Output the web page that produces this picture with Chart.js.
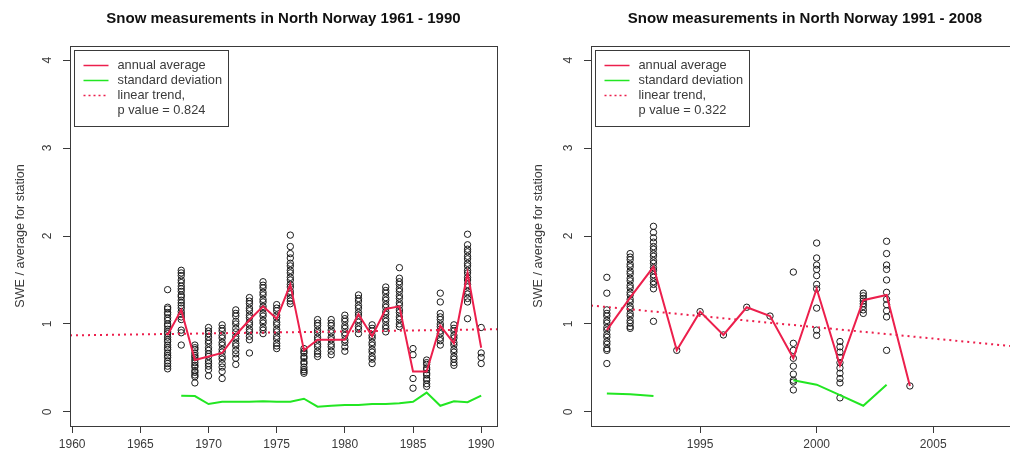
<!DOCTYPE html>
<html>
<head>
<meta charset="utf-8">
<script src="https://cdn.jsdelivr.net/npm/chart.js@4.4.1/dist/chart.umd.min.js"></script>
<style>
  html, body { margin: 0; padding: 0; background: #fff; overflow: hidden; width: 1010px; height: 461px; }
  #left { position: absolute; left: 0; top: 0; }
  #right { position: absolute; left: 505px; top: 0; }
</style>
</head>
<body>
<canvas id="left" width="505" height="461"></canvas>
<canvas id="right" width="525" height="461"></canvas>
<script>
// ---- data ----
const leftYears = [1967, 1968, 1969, 1970, 1971, 1972, 1973, 1974, 1975, 1976, 1977, 1978,
  1979, 1980, 1981, 1982, 1983, 1984, 1985, 1986, 1987, 1988, 1989, 1990];
const leftAvg = [0.875, 1.16, 0.59, 0.63, 0.67, 0.875, 1.045, 1.2, 1.06, 1.45, 0.70, 0.82,
  0.82, 0.82, 1.11, 0.86, 1.17, 1.2, 0.46, 0.46, 0.98, 0.78, 1.58, 0.73];
const leftSd = [null, 0.185, 0.18, 0.09, 0.115, 0.115, 0.115, 0.12, 0.115, 0.115, 0.15, 0.06,
  0.07, 0.08, 0.08, 0.09, 0.09, 0.10, 0.115, 0.22, 0.07, 0.12, 0.11, 0.185];
const leftStations = [
  [1.39, 1.19, 1.17, 1.13, 1.11, 1.07, 1.04, 1.00, 0.98, 0.94, 0.91, 0.89, 0.85, 0.82, 0.80, 0.76, 0.73, 0.71, 0.67, 0.64, 0.62, 0.58, 0.55, 0.52, 0.49],
  [1.61, 1.58, 1.55, 1.50, 1.47, 1.43, 1.40, 1.37, 1.33, 1.31, 1.27, 1.24, 1.21, 1.18, 1.14, 1.11, 1.08, 1.05, 0.93, 0.90, 0.76],
  [0.76, 0.73, 0.71, 0.67, 0.64, 0.62, 0.59, 0.56, 0.53, 0.51, 0.47, 0.45, 0.42, 0.40, 0.33],
  [0.96, 0.92, 0.89, 0.85, 0.81, 0.78, 0.73, 0.70, 0.66, 0.63, 0.58, 0.55, 0.52, 0.48, 0.41],
  [0.99, 0.95, 0.92, 0.87, 0.84, 0.79, 0.76, 0.71, 0.68, 0.63, 0.60, 0.55, 0.51, 0.46, 0.38],
  [1.16, 1.12, 1.09, 1.03, 1.00, 0.95, 0.91, 0.86, 0.83, 0.78, 0.75, 0.70, 0.66, 0.61, 0.54],
  [1.30, 1.26, 1.23, 1.18, 1.15, 1.10, 1.07, 1.02, 0.99, 0.94, 0.91, 0.86, 0.82, 0.67],
  [1.48, 1.44, 1.41, 1.36, 1.33, 1.28, 1.25, 1.20, 1.17, 1.12, 1.09, 1.04, 1.01, 0.96, 0.93, 0.89],
  [1.22, 1.18, 1.15, 1.10, 1.07, 1.02, 0.99, 0.94, 0.91, 0.86, 0.83, 0.78, 0.75, 0.72],
  [2.01, 1.88, 1.80, 1.75, 1.69, 1.66, 1.61, 1.58, 1.53, 1.50, 1.45, 1.42, 1.37, 1.34, 1.29, 1.26, 1.23],
  [0.72, 0.69, 0.67, 0.63, 0.61, 0.57, 0.55, 0.51, 0.48, 0.46, 0.44],
  [1.05, 1.01, 0.98, 0.93, 0.90, 0.85, 0.82, 0.77, 0.74, 0.69, 0.66, 0.63],
  [1.05, 1.01, 0.98, 0.93, 0.90, 0.85, 0.82, 0.77, 0.74, 0.69, 0.65],
  [1.10, 1.06, 1.03, 0.98, 0.95, 0.90, 0.87, 0.82, 0.79, 0.74, 0.69],
  [1.33, 1.29, 1.26, 1.21, 1.18, 1.13, 1.10, 1.05, 1.02, 0.97, 0.94, 0.89],
  [0.99, 0.95, 0.92, 0.87, 0.84, 0.79, 0.76, 0.71, 0.68, 0.63, 0.60, 0.55],
  [1.42, 1.38, 1.35, 1.30, 1.27, 1.22, 1.19, 1.14, 1.11, 1.06, 1.03, 0.98, 0.95, 0.91],
  [1.64, 1.52, 1.48, 1.45, 1.40, 1.37, 1.32, 1.29, 1.24, 1.21, 1.16, 1.13, 1.08, 1.05, 1.00, 0.97],
  [0.72, 0.65, 0.38, 0.27],
  [0.59, 0.56, 0.54, 0.50, 0.48, 0.44, 0.42, 0.38, 0.36, 0.32, 0.29],
  [1.35, 1.25, 1.12, 1.08, 1.05, 1.00, 0.97, 0.92, 0.89, 0.84, 0.81, 0.76],
  [0.99, 0.95, 0.92, 0.87, 0.84, 0.79, 0.76, 0.71, 0.68, 0.63, 0.60, 0.56, 0.53],
  [2.02, 1.90, 1.85, 1.82, 1.77, 1.74, 1.69, 1.66, 1.61, 1.58, 1.53, 1.50, 1.45, 1.42, 1.37, 1.34, 1.29, 1.25, 1.06],
  [0.96, 0.67, 0.62, 0.55]
];
const leftTrendYears = [1959.84, 1991.16];
const leftTrendValues = [0.87, 0.94];

const rightYears = [1991, 1992, 1993, 1994, 1995, 1996, 1997, 1998, 1999, 2000, 2001, 2002, 2003, 2004];
const rightAvg = [0.93, 1.3, 1.65, 0.70, 1.14, 0.875, 1.19, 1.09, 0.61, 1.40, 0.53, 1.27, 1.33, 0.295];
const rightSd = [0.21, 0.20, 0.18, null, null, null, null, null, 0.36, 0.31, 0.19, 0.07, 0.31, null];
const rightStations = [
  [1.53, 1.35, 1.16, 1.12, 1.09, 1.04, 1.01, 0.96, 0.93, 0.88, 0.85, 0.80, 0.77, 0.72, 0.70, 0.55],
  [1.80, 1.76, 1.73, 1.68, 1.65, 1.60, 1.57, 1.52, 1.49, 1.44, 1.41, 1.36, 1.33, 1.28, 1.25, 1.20, 1.17, 1.12, 1.09, 1.04, 1.01, 0.97, 0.95],
  [2.11, 2.04, 1.98, 1.93, 1.88, 1.85, 1.80, 1.77, 1.72, 1.69, 1.64, 1.61, 1.56, 1.53, 1.48, 1.45, 1.40, 1.03],
  [0.70],
  [1.14],
  [0.875],
  [1.19],
  [1.09],
  [1.59, 0.78, 0.70, 0.61, 0.52, 0.43, 0.36, 0.34, 0.25],
  [1.92, 1.75, 1.67, 1.62, 1.55, 1.45, 1.40, 1.18, 0.93, 0.87],
  [0.80, 0.74, 0.68, 0.62, 0.56, 0.50, 0.44, 0.38, 0.33, 0.16],
  [1.35, 1.32, 1.29, 1.26, 1.23, 1.20, 1.16, 1.12],
  [1.94, 1.80, 1.67, 1.62, 1.50, 1.36, 1.28, 1.22, 1.15, 1.08, 0.70],
  [0.295]
];
const rightTrendYears = [1990.32, 2008.68];
const rightTrendValues = [1.21, 0.74];

const yTicks = [0, 1, 2, 3, 4];

// ---- styling ----
const FONT = "'Liberation Sans', Arial, Helvetica, sans-serif";
const INK = "#3a3a3a";
const RED = "#ec1f4c";
const GREEN = "#22e622";

Chart.defaults.font.family = FONT;
Chart.defaults.color = INK;

// titles, frame and the in-plot legend
const framePlugin = {
  id: "frame",
  afterDraw(chart, args, opts) {
    const ctx = chart.ctx;
    const a = chart.chartArea;
    ctx.save();
    ctx.strokeStyle = INK;
    ctx.lineWidth = 1;
    ctx.strokeRect(Math.round(a.left) + 0.5, Math.round(a.top) + 0.5,
      Math.round(a.right - a.left), Math.round(a.bottom - a.top));

    // title
    ctx.fillStyle = "#111";
    ctx.font = "bold 15px " + FONT;
    ctx.textAlign = "center";
    ctx.textBaseline = "alphabetic";
    ctx.fillText(opts.title, (a.left + a.right) / 2, 22.5);

    // legend box
    const bx = a.left + 4.5, by = a.top + 4.5, bw = 154, bh = 76;
    ctx.fillStyle = "#fff";
    ctx.fillRect(bx, by, bw, bh);
    ctx.strokeRect(bx, by, bw, bh);
    const rows = [
      { text: "annual average", color: RED, dash: [] },
      { text: "standard deviation", color: GREEN, dash: [] },
      { text: "linear trend,", color: RED, dash: [2, 3] },
      { text: opts.pText, color: null }
    ];
    ctx.font = "12.8px " + FONT;
    ctx.textAlign = "left";
    ctx.textBaseline = "middle";
    rows.forEach((r, i) => {
      const ly = by + 15 + i * 15;
      if (r.color) {
        ctx.beginPath();
        ctx.setLineDash(r.dash);
        ctx.strokeStyle = r.color;
        ctx.lineWidth = 1.5;
        ctx.moveTo(bx + 9, ly);
        ctx.lineTo(bx + 34, ly);
        ctx.stroke();
        ctx.setLineDash([]);
      }
      ctx.fillStyle = INK;
      ctx.fillText(r.text, bx + 43, ly);
    });
    ctx.restore();
  }
};

function makeChart(id, cfg) {
  const points = [];
  cfg.years.forEach((yr, i) => {
    cfg.stations[i].forEach((v) => points.push({ x: yr, y: v }));
  });

  new Chart(document.getElementById(id), {
    type: "scatter",
    data: {
      datasets: [
        {
          type: "line",
          label: "annual average",
          data: cfg.years.map((yr, i) => ({ x: yr, y: cfg.avg[i] })),
          borderColor: RED,
          borderWidth: 2,
          pointRadius: 0,
          tension: 0,
        },
        {
          type: "line",
          label: "standard deviation",
          data: cfg.years.map((yr, i) => ({ x: yr, y: cfg.sd[i] })),
          borderColor: GREEN,
          borderWidth: 2,
          pointRadius: 0,
          spanGaps: false,
          tension: 0,
        },
        {
          type: "line",
          label: "linear trend",
          data: cfg.trendYears.map((yr, i) => ({ x: yr, y: cfg.trendValues[i] })),
          borderColor: RED,
          borderWidth: 2,
          borderDash: [2, 4],
          pointRadius: 0,
        },
        {
          label: "stations",
          data: points,
          pointStyle: "circle",
          pointRadius: 3.2,
          borderWidth: 1,
          borderColor: "#1a1a1a",
          backgroundColor: "rgba(0,0,0,0)",
        },
      ],
    },
    options: {
      responsive: false,
      animation: false,
      events: [],
      layout: { padding: { left: 0, top: 46, right: cfg.padRight, bottom: 0 } },
      plugins: {
        legend: { display: false },
        tooltip: { enabled: false },
        frame: { title: cfg.title, pText: cfg.pText },
      },
      scales: {
        x: {
          type: "linear",
          min: cfg.xMin,
          max: cfg.xMax,
          afterFit: (s) => { s.height = 35; },
          border: { display: true, color: INK },
          grid: { drawOnChartArea: false, drawTicks: true, tickLength: 7, color: INK },
          ticks: {
            stepSize: 5,
            includeBounds: false,
            padding: 4,
            color: INK,
            font: { size: 12 },
            maxRotation: 0,
            callback: (v) => String(v),
          },
        },
        y: {
          min: -0.16,
          max: 4.16,
          afterFit: (s) => { s.width = cfg.yWidth; },
          afterBuildTicks: (s) => { s.ticks = yTicks.map((v) => ({ value: v })); },
          border: { display: true, color: INK },
          grid: { drawOnChartArea: false, drawTicks: true, tickLength: 7, color: INK },
          ticks: {
            minRotation: 90,
            maxRotation: 90,
            crossAlign: "center",
            padding: 12,
            color: INK,
            font: { size: 12 },
          },
          title: {
            display: true,
            text: "SWE / average for station",
            color: INK,
            font: { size: 12.6 },
            padding: { top: cfg.yTitlePad, bottom: 0 },
          },
        },
      },
    },
    plugins: [framePlugin],
  });
}

makeChart("left", {
  years: leftYears, avg: leftAvg, sd: leftSd, stations: leftStations,
  trendYears: leftTrendYears, trendValues: leftTrendValues,
  xMin: 1959.84, xMax: 1991.16, padRight: 8, yWidth: 70, yTitlePad: 12.5,
  title: "Snow measurements in North Norway 1961 - 1990", pText: "p value = 0.824",
});

makeChart("right", {
  years: rightYears, avg: rightAvg, sd: rightSd, stations: rightStations,
  trendYears: rightTrendYears, trendValues: rightTrendValues,
  xMin: 1990.32, xMax: 2008.68, padRight: 11, yWidth: 86, yTitlePad: 25.5,
  title: "Snow measurements in North Norway 1991 - 2008", pText: "p value = 0.322",
});
</script>
</body>
</html>
